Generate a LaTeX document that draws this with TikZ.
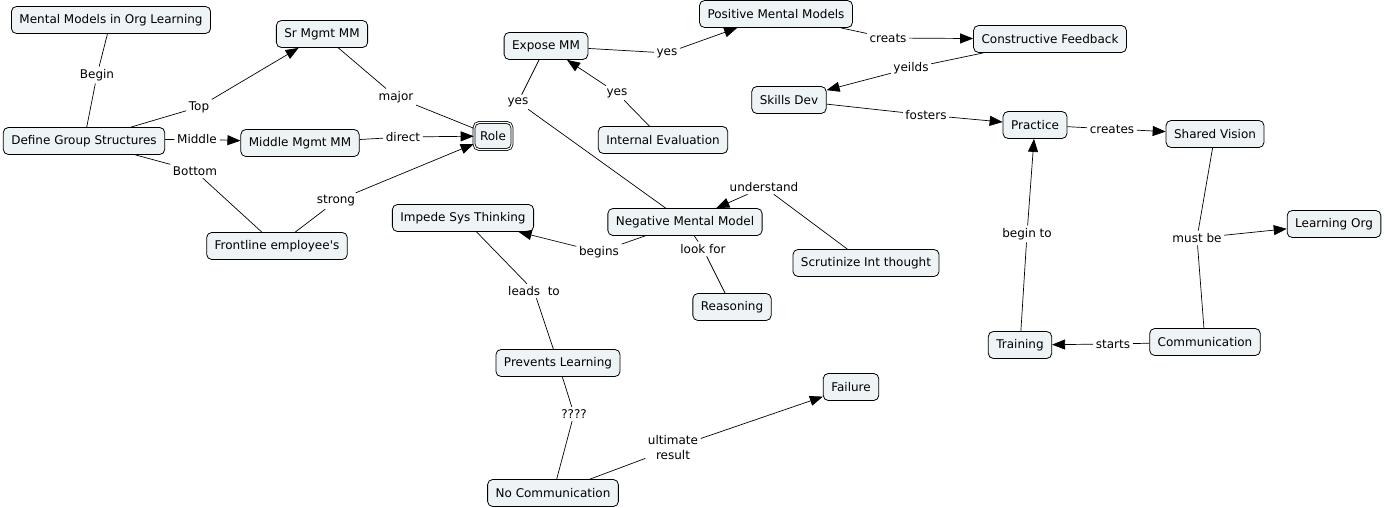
\documentclass[tikz,border=0pt]{standalone}
\usepackage{fontspec}
\setmainfont{DejaVu Sans}
\usepackage{xcolor}
\usepackage{tikz}
\usetikzlibrary{arrows.meta}
\definecolor{nodefill}{HTML}{EEF3F6}

\begin{document}
\begin{tikzpicture}[x=1pt,y=-1pt,
  concept/.style={draw,rounded corners=5pt,fill=nodefill,line width=0.8pt,
    minimum height=27pt,inner xsep=8pt,font=\fontsize{12}{14}\selectfont},
  link/.style={inner sep=2.5pt,font=\fontsize{12}{14}\selectfont},
  line/.style={line width=0.7pt},
  arr/.style={line,-{Triangle[length=13pt,width=10pt]}}]
\useasboundingbox (0,0) rectangle (1385,508);

% Concepts
\node[concept] (mmol) at (111,20) {Mental Models in Org Learning};
\node[concept] (sr) at (322,34) {Sr Mgmt MM};
\node[concept] (dgs) at (84,141) {Define Group Structures};
\node[concept] (mid) at (300,143) {Middle Mgmt MM};
\node[concept,double,double distance=1.2pt,inner xsep=6pt] (role) at (493,136) {Role};
\node[concept] (front) at (277,246) {Frontline employee\textquotesingle s};
\node[concept] (expose) at (546,46) {Expose MM};
\node[concept] (pos) at (776,14) {Positive Mental Models};
\node[concept] (cf) at (1050,39) {Constructive Feedback};
\node[concept] (skills) at (789,100) {Skills Dev};
\node[concept] (ie) at (663,140) {Internal Evaluation};
\node[concept] (practice) at (1035,125) {Practice};
\node[concept] (sv) at (1215,134) {Shared Vision};
\node[concept] (lo) at (1334,224) {Learning Org};
\node[concept] (nmm) at (685,222) {Negative Mental Model};
\node[concept] (ist) at (463,218) {Impede Sys Thinking};
\node[concept] (sit) at (866,263) {Scrutinize Int thought};
\node[concept] (reas) at (732,307) {Reasoning};
\node[concept] (pl) at (558,363) {Prevents Learning};
\node[concept] (fail) at (851,387) {Failure};
\node[concept] (nc) at (553,493) {No Communication};
\node[concept] (train) at (1020,345) {Training};
\node[concept] (comm) at (1205,342) {Communication};

% Linking phrases
\node[link] (lBegin) at (97,75) {Begin};
\node[link] (lTop) at (199,107) {Top};
\node[link] (lMiddle) at (197,139) {Middle};
\node[link] (lBottom) at (195,171) {Bottom};
\node[link] (lMajor) at (396,97) {major};
\node[link] (lDirect) at (403,137) {direct};
\node[link] (lStrong) at (336,201) {strong};
\node[link] (lYesA) at (518,102) {yes};
\node[link] (lYesB) at (667,53) {yes};
\node[link] (lYesC) at (617,93) {yes};
\node[link] (lCreats) at (888,38) {creats};
\node[link] (lYeilds) at (911,68) {yeilds};
\node[link] (lFosters) at (926,115) {fosters};
\node[link] (lCreates) at (1112,129) {creates};
\node[link] (lMustbe) at (1197,238) {must be};
\node[link] (lStarts) at (1113,344) {starts};
\node[link] (lBeginto) at (1027,234) {begin to};
\node[link] (lUnderstand) at (764,187) {understand};
\node[link] (lBegins) at (599,252) {begins};
\node[link] (lLookfor) at (703,249) {look for};
\node[link] (lLeadsto) at (534,291) {leads\ \ to};
\node[link] (lQuest) at (574,414) {????};
\node[link,align=center,font=\fontsize{12}{15}\selectfont] (lUltimate) at (673,448) {ultimate\\result};

% Connections
\draw[line] (mmol) -- (lBegin) -- (dgs);
\draw[line] (dgs) -- (lTop);
\draw[arr] (lTop) -- (sr);
\draw[line] (dgs) -- (lMiddle);
\draw[arr] (lMiddle) -- (mid);
\draw[line] (dgs) -- (lBottom) -- (front);
\draw[line] (sr) -- (lMajor) -- (role);
\draw[line] (mid) -- (lDirect);
\draw[arr] (lDirect) -- (role);
\draw[line] (front) -- (lStrong);
\draw[arr] (lStrong) -- (role);
\draw[line] (expose) -- (lYesA) -- (nmm);
\draw[line] (expose) -- (lYesB);
\draw[arr] (lYesB) -- (pos);
\draw[line] (ie) -- (lYesC);
\draw[arr] (lYesC) -- (expose);
\draw[line] (pos) -- (lCreats);
\draw[arr] (lCreats) -- (cf);
\draw[line] (cf) -- (lYeilds);
\draw[arr] (lYeilds) -- (skills);
\draw[line] (skills) -- (lFosters);
\draw[arr] (lFosters) -- (practice);
\draw[line] (practice) -- (lCreates);
\draw[arr] (lCreates) -- (sv);
\draw[line] (sv) -- (lMustbe) -- (comm);
\draw[arr] (lMustbe) -- (lo);
\draw[line] (comm) -- (lStarts);
\draw[arr] (lStarts) -- (train);
\draw[line] (train) -- (lBeginto);
\draw[arr] (lBeginto) -- (practice);
\draw[line] (sit) -- (lUnderstand);
\draw[arr] (lUnderstand) -- (nmm);
\draw[line] (nmm) -- (lBegins);
\draw[arr] (lBegins) -- (ist);
\draw[line] (nmm) -- (lLookfor) -- (reas);
\draw[line] (ist) -- (lLeadsto) -- (pl);
\draw[line] (pl) -- (lQuest) -- (nc);
\draw[line] (nc) -- (lUltimate);
\draw[arr] (lUltimate) -- (fail);
\end{tikzpicture}
\end{document}
